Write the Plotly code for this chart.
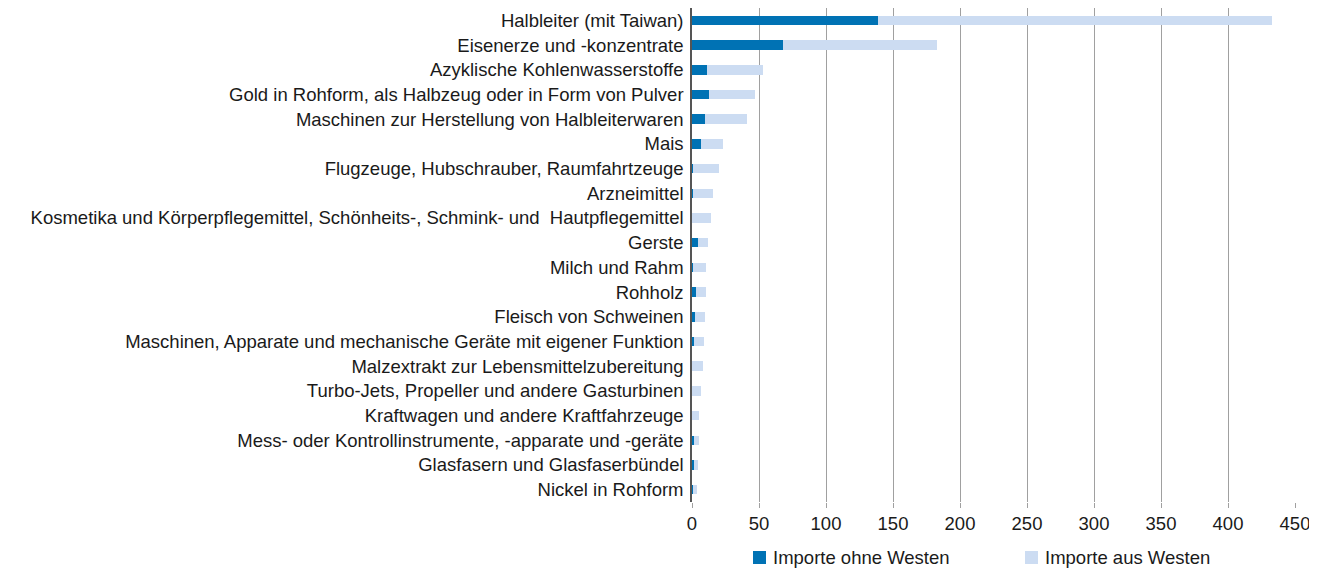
import plotly.graph_objects as go

categories = [
    "Halbleiter (mit Taiwan)",
    "Eisenerze und -konzentrate",
    "Azyklische Kohlenwasserstoffe",
    "Gold in Rohform, als Halbzeug oder in Form von Pulver",
    "Maschinen zur Herstellung von Halbleiterwaren",
    "Mais",
    "Flugzeuge, Hubschrauber, Raumfahrtzeuge",
    "Arzneimittel",
    "Kosmetika und Körperpflegemittel, Schönheits-, Schmink- und \u00a0Hautpflegemittel",
    "Gerste",
    "Milch und Rahm",
    "Rohholz",
    "Fleisch von Schweinen",
    "Maschinen, Apparate und mechanische Geräte mit eigener Funktion",
    "Malzextrakt zur Lebensmittelzubereitung",
    "Turbo-Jets, Propeller und andere Gasturbinen",
    "Kraftwagen und andere Kraftfahrzeuge",
    "Mess- oder Kontrollinstrumente, -apparate und -geräte",
    "Glasfasern und Glasfaserbündel",
    "Nickel in Rohform",
]
ohne_westen = [138.5, 68.1, 10.9, 12.9, 9.9, 6.9, 0.4, 1.0, 0.3, 4.7,
               0.4, 3.2, 2.2, 1.4, 0.3, 0.2, 0.2, 1.7, 1.7, 0.8]
aus_westen = [294.5, 114.4, 42.1, 34.3, 31.1, 16.5, 20.0, 14.9, 14.1, 7.2,
              10.0, 7.2, 7.7, 7.5, 7.9, 6.7, 5.2, 3.2, 2.8, 2.6]
x_ticks = [0, 50, 100, 150, 200, 250, 300, 350, 400, 450]
series_names = ["Importe ohne Westen", "Importe aus Westen"]
series_colors = ["#0072B4", "#CCDCF2"]

FONT = "Liberation Sans, Arial, Helvetica, sans-serif"
OFF = 8  # page body margin offset
W, H = 1317 - OFF, 568 - OFF
ML, MR, MT, MB = 692 - OFF, 22, 8 - OFF, 66
PW, PH = W - ML - MR, H - MT - MB


def px_x(px):
    return (px - OFF - ML) / PW


def px_y(py):
    return (H - MB - (py - OFF)) / PH


fig = go.Figure()
for vals, name, col in zip([ohne_westen, aus_westen], series_names, series_colors):
    fig.add_trace(go.Bar(
        y=categories, x=vals, orientation="h", name=name,
        marker=dict(color=col, line=dict(width=0)), showlegend=False,
    ))

# manual legend
shapes = []
annotations = []
for name, col, sx in zip(series_names, series_colors, [753, 1025]):
    shapes.append(dict(type="rect", xref="paper", yref="paper",
                       x0=px_x(sx), x1=px_x(sx + 13), y0=px_y(564), y1=px_y(551),
                       fillcolor=col, line=dict(width=0)))
    annotations.append(dict(xref="paper", yref="paper", x=px_x(sx + 18), y=px_y(557.5),
                            xanchor="left", yanchor="middle", showarrow=False,
                            text=name, font=dict(family=FONT, size=18.5, color="#1a1a1a")))

fig.update_layout(
    barmode="stack",
    bargap=0.615,
    width=W, height=H,
    margin=dict(l=ML, r=MR, t=MT, b=MB),
    paper_bgcolor="white", plot_bgcolor="white",
    font=dict(family=FONT, size=18.5, color="#1a1a1a"),
    showlegend=False,
    shapes=shapes,
    annotations=annotations,
    xaxis=dict(range=[0, 450], tickvals=x_ticks, showgrid=True,
               gridcolor="#A0A0A0", gridwidth=1, zeroline=False,
               ticks="outside", ticklen=5, tickcolor="#A0A0A0",
               showline=False, fixedrange=True, automargin=False),
    yaxis=dict(categoryorder="array", categoryarray=categories[::-1],
               autorange=False, range=[-0.5, 19.5],
               showline=True, linecolor="#555555", linewidth=1.5,
               ticks="outside", ticklen=3, tickcolor="rgba(0,0,0,0)",
               showgrid=False, automargin=False),
)
fig.write_html("out.html")
